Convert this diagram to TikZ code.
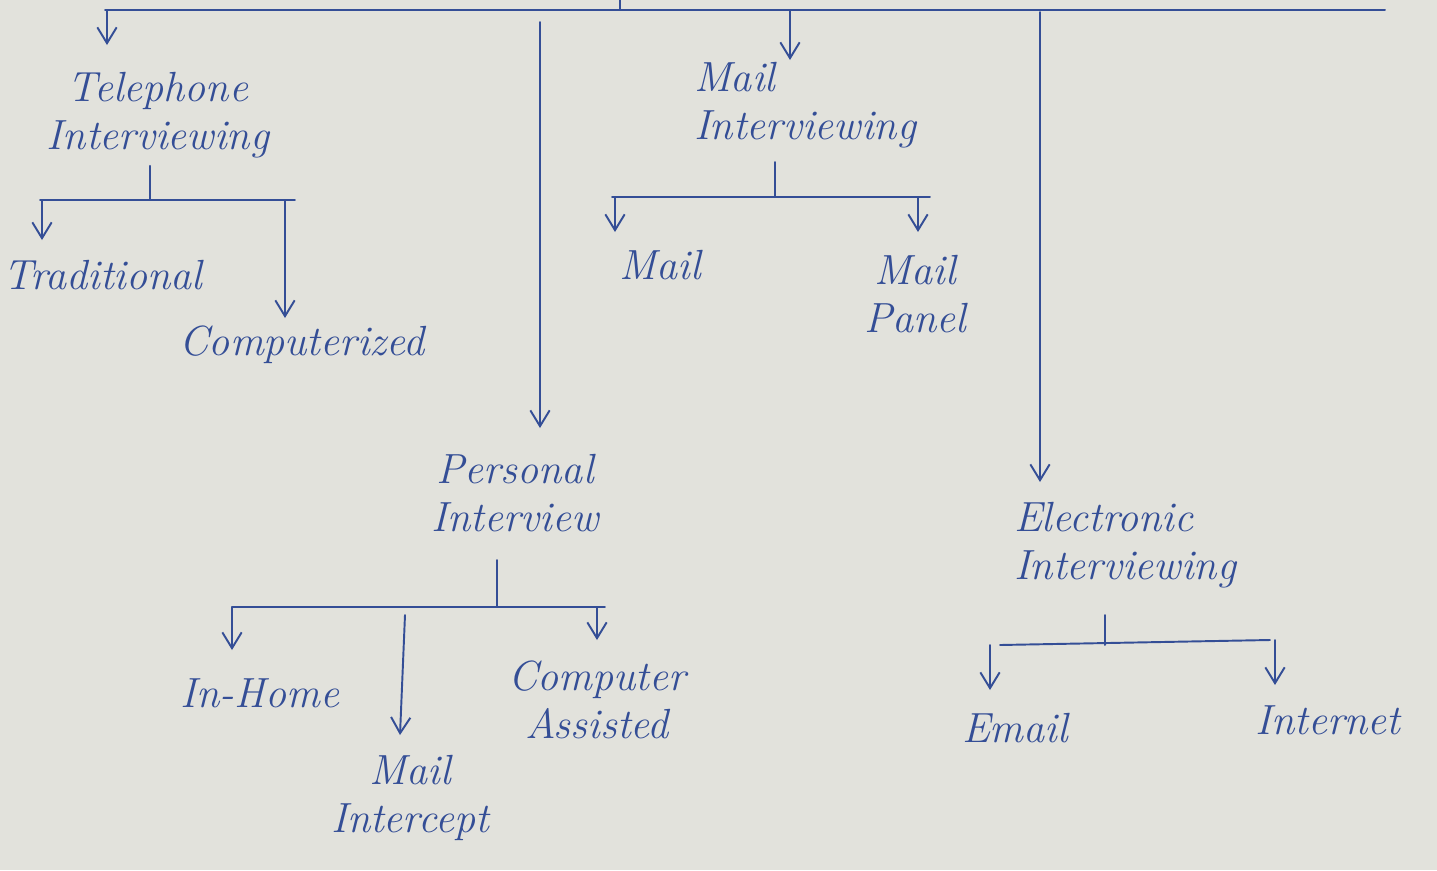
\documentclass[tikz,border=0pt]{standalone}
\usetikzlibrary{arrows.meta}
\definecolor{paper}{RGB}{226,226,220}
\definecolor{ink}{RGB}{52,78,150}
\begin{document}
\begin{tikzpicture}[x=0.02cm,y=-0.02cm,
  lbl/.style={text=ink,font=\fontsize{24}{27}\selectfont\itshape,align=center,inner sep=1pt},
  ln/.style={draw=ink,line width=1.1pt,line cap=round},
  arr/.style={ln,-{Straight Barb[length=9pt,width=11pt,line width=1.1pt]}}]
\fill[paper] (0,0) rectangle (1437,870);
\useasboundingbox (0,0) rectangle (1437,870);
% nodes
\node[lbl] (tel) at (158,115) {Telephone\\Interviewing};
\node[lbl,align=left] (mail) at (805,105) {Mail\\Interviewing};
\node[lbl] (pers) at (515,493) {Personal\\Interview};
\node[lbl,align=left] (elec) at (1125,545) {Electronic\\Interviewing};
\node[lbl] (trad) at (103,275) {Traditional};
\node[lbl] (comp) at (302,345) {Computerized};
\node[lbl] (mm) at (660,265) {Mail};
\node[lbl] (mp) at (915,294) {Mail\\Panel};
\node[lbl] (ih) at (260,693) {In-Home};
\node[lbl] (mi) at (410,798) {Mail\\Intercept};
\node[lbl] (ca) at (597,700) {Computer\\Assisted};
\node[lbl] (em) at (1015,728) {Email};
\node[lbl] (int) at (1328,720) {Internet};
% top level
\coordinate (root) at (620,0);
\coordinate (rb) at (620,10);
\coordinate (b1) at (105,10);
\coordinate (b2) at (1385,10);
\draw[ln] (root) -- (rb);
\draw[ln] (b1) -- (b2);
\coordinate (a1) at (107,10);
\coordinate (a2) at (540,22);
\coordinate (a3) at (790,10);
\coordinate (a4) at (1040,12);
\draw[arr] (a1) -- (107,45);
\draw[arr] (a2) -- (540,428);
\draw[arr] (a3) -- (790,60);
\draw[arr] (a4) -- (1040,482);
% telephone
\coordinate (tj) at (150,200);
\draw[ln] (tel.south -| tj) ++(0,6) -- (tj);
\draw[ln] (40,200) -- (295,200);
\draw[arr] (42,200) -- (42,240);
\draw[arr] (285,200) -- (285,318);
% mail
\coordinate (mj) at (775,197);
\draw[ln] (775,162) -- (mj);
\draw[ln] (612,197) -- (930,197);
\draw[arr] (615,197) -- (615,232);
\draw[arr] (918,197) -- (918,232);
% personal
\coordinate (pj) at (497,607);
\draw[ln] (497,560) -- (pj);
\draw[ln] (232,607) -- (605,607);
\draw[arr] (232,607) -- (232,650);
\draw[arr] (405,615) -- (400,735);
\draw[arr] (597,607) -- (597,640);
% electronic
\coordinate (ej) at (1105,645);
\draw[ln] (1105,615) -- (ej);
\draw[ln] (1000,645) -- (1270,640);
\draw[arr] (990,645) -- (990,690);
\draw[arr] (1275,640) -- (1275,685);
\end{tikzpicture}
\end{document}
